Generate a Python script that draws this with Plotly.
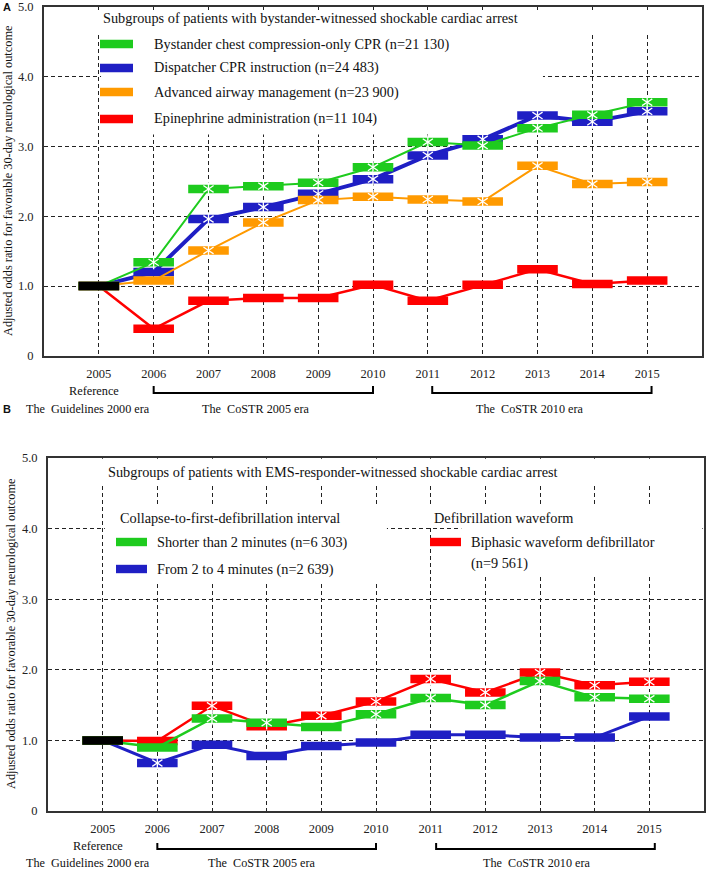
import plotly.graph_objects as go

# data
years = [2005, 2006, 2007, 2008, 2009, 2010, 2011, 2012, 2013, 2014, 2015]

# panel A - bystander-witnessed
a_compression = [1.00, 1.34, 2.39, 2.43, 2.48, 2.70, 3.06, 3.01, 3.26, 3.45, 3.63]
a_dispatcher = [1.00, 1.20, 1.96, 2.13, 2.32, 2.53, 2.87, 3.10, 3.44, 3.35, 3.50]
a_airway = [1.00, 1.08, 1.51, 1.91, 2.23, 2.28, 2.24, 2.21, 2.72, 2.46, 2.49]
a_epinephrine = [1.00, 0.39, 0.79, 0.83, 0.83, 1.02, 0.79, 1.02, 1.24, 1.03, 1.08]
a_compression_sig = [0, 1, 1, 1, 1, 1, 1, 1, 1, 1, 1]
a_dispatcher_sig = [0, 0, 1, 1, 1, 1, 1, 1, 1, 1, 1]
a_airway_sig = [0, 0, 1, 1, 1, 1, 1, 1, 1, 1, 1]
a_epinephrine_sig = [0, 0, 0, 0, 0, 0, 0, 0, 0, 0, 0]

# panel B - EMS-responder-witnessed
b_short = [1.00, 0.90, 1.31, 1.25, 1.19, 1.37, 1.60, 1.50, 1.84, 1.61, 1.59]
b_mid = [1.00, 0.68, 0.94, 0.78, 0.92, 0.97, 1.08, 1.08, 1.04, 1.04, 1.34]
b_biphasic = [1.00, 0.99, 1.49, 1.20, 1.35, 1.55, 1.87, 1.68, 1.96, 1.78, 1.83]
b_short_sig = [0, 0, 1, 1, 0, 1, 1, 1, 1, 1, 1]
b_mid_sig = [0, 1, 0, 0, 0, 0, 0, 0, 0, 0, 0]
b_biphasic_sig = [0, 0, 1, 0, 1, 1, 1, 1, 1, 1, 1]

ref_year = [2005]
ref_value = [1.0]

ytick_vals = [0, 1, 2, 3, 4, 5]
ytick_text = ['0', '1.0', '2.0', '3.0', '4.0', '5.0']

GREEN = '#1ecb1e'
BLUE = '#1f1fc4'
ORANGE = '#ff9a00'
RED = '#ff0000'
SERIF = 'Liberation Serif'

W, H = 709, 870


def px(x, y):
    return x / W, 1 - y / H


fig = go.Figure()


def add_series(x, y, sig, color, width, xa, ya):
    fig.add_trace(go.Scatter(
        x=x, y=y, xaxis=xa, yaxis=ya,
        mode='lines+markers',
        line=dict(color=color, width=width),
        marker=dict(symbol='line-ew', size=29, line=dict(color=color, width=8.5)),
        showlegend=False, hoverinfo='skip', cliponaxis=False,
    ))
    # white asterisks on the significant years (6-armed: y-up + y-down)
    sx = [xv for xv, s in zip(x, sig) if s]
    sy = [yv for yv, s in zip(y, sig) if s]
    if sx:
        for sym in ('y-up-open', 'y-down-open'):
            fig.add_trace(go.Scatter(
                x=sx, y=sy, xaxis=xa, yaxis=ya, mode='markers',
                marker=dict(symbol=sym, size=8.5, color='white',
                            line=dict(color='white', width=1.3)),
                showlegend=False, hoverinfo='skip', cliponaxis=False,
            ))


add_series(years, a_epinephrine, a_epinephrine_sig, RED, 2.5, 'x', 'y')
add_series(years, a_dispatcher, a_dispatcher_sig, BLUE, 4, 'x', 'y')
add_series(years, a_airway, a_airway_sig, ORANGE, 2, 'x', 'y')
add_series(years, a_compression, a_compression_sig, GREEN, 2, 'x', 'y')
add_series(ref_year, ref_value, [0], 'black', 2, 'x', 'y')

add_series(years, b_mid, b_mid_sig, BLUE, 3, 'x2', 'y2')
add_series(years, b_biphasic, b_biphasic_sig, RED, 2.5, 'x2', 'y2')
add_series(years, b_short, b_short_sig, GREEN, 2.5, 'x2', 'y2')
add_series(ref_year, ref_value, [0], 'black', 2, 'x2', 'y2')

xax = dict(range=[2004, 2016], tickvals=years, ticktext=[str(v) for v in years],
           showgrid=True, gridcolor='#222', gridwidth=1, griddash='4px,3px',
           zeroline=False, showline=True, linecolor='#333', linewidth=2, mirror=True,
           ticks='', ticklabelstandoff=5, automargin=False, ticklabeloverflow='allow',
           tickfont=dict(family=SERIF, size=12.5, color='#222'), fixedrange=True)
yax = dict(range=[0, 5], tickvals=ytick_vals, ticktext=ytick_text,
           showgrid=True, gridcolor='#222', gridwidth=1, griddash='4px,3px',
           zeroline=False, showline=True, linecolor='#333', linewidth=2, mirror=True,
           ticks='', ticklabelstandoff=6, automargin=False, ticklabeloverflow='allow',
           tickfont=dict(family=SERIF, size=12.5, color='#222'), fixedrange=True)

fig.update_layout(
    width=W, height=H,
    margin=dict(l=0, r=0, t=0, b=0, pad=0),
    paper_bgcolor='white', plot_bgcolor='white',
    xaxis=dict(xax, domain=[44 / W, 702 / W], anchor='y'),
    yaxis=dict(yax, domain=[1 - 356 / H, 1 - 6.5 / H], anchor='x'),
    xaxis2=dict(xax, domain=[48 / W, 704 / W], anchor='y2'),
    yaxis2=dict(yax, domain=[1 - 811 / H, 1 - 458 / H], anchor='x2'),
)

shapes = []


def mask(x0, x1, y0, y1, xa, ya):
    shapes.append(dict(type='rect', xref=xa, yref=ya, x0=x0, x1=x1, y0=y0, y1=y1,
                       fillcolor='white', line=dict(width=0), layer='between'))


# white areas behind the legend texts (grid is interrupted there)
mask(2004.03, 2015.97, 4.60, 4.95, 'x', 'y')
mask(2005.04, 2013.1, 3.17, 4.60, 'x', 'y')
mask(2004.03, 2015.97, 4.62, 4.99, 'x2', 'y2')
mask(2005.04, 2010.2, 3.24, 4.33, 'x2', 'y2')
mask(2010.2, 2011.56, 4.02, 4.33, 'x2', 'y2')
mask(2011.56, 2015.97, 3.32, 4.33, 'x2', 'y2')


def swatch(x0, x1, yc, color):
    a0, b0 = px(x0, yc - 4.2)
    a1, b1 = px(x1, yc + 4.2)
    shapes.append(dict(type='rect', xref='paper', yref='paper', x0=a0, x1=a1, y0=b1, y1=b0,
                       fillcolor=color, line=dict(width=0)))


swatch(100, 133, 44, GREEN)
swatch(100, 133, 68, BLUE)
swatch(100, 133, 92, ORANGE)
swatch(100, 133, 119, RED)
swatch(116, 147, 542, GREEN)
swatch(116, 147, 569, BLUE)
swatch(430, 461, 542, RED)


def bracket(x0, x1, y_bot, y_top, xa):
    yb = 1 - y_bot / H
    yt = 1 - y_top / H
    shapes.append(dict(type='path', xref=xa, yref='paper',
                       path=f'M {x0},{yt} L {x0},{yb} L {x1},{yb} L {x1},{yt}',
                       line=dict(color='black', width=2)))


bracket(2006, 2010, 393, 386, 'x')
bracket(2011.08, 2015.08, 393, 386, 'x')
bracket(2006, 2010, 849, 843, 'x2')
bracket(2011.1, 2015.1, 849, 843, 'x2')

fig.update_layout(shapes=shapes)

annotations = []


def label(x, y, text, size=14.3, anchor='left', family=SERIF, bold=False, angle=0):
    ax, ay = px(x, y)
    if bold:
        text = f'<b>{text}</b>'
    annotations.append(dict(x=ax, y=ay, xref='paper', yref='paper', text=text,
                            showarrow=False, xanchor=anchor, yanchor='middle',
                            textangle=angle,
                            font=dict(family=family, size=size, color='#111')))


# panel A texts
label(7, 7, 'A', size=11, anchor='center', family='Liberation Sans', bold=True)
label(101, 18, 'Subgroups of patients with bystander-witnessed shockable cardiac arrest')
label(152, 44, 'Bystander chest compression-only CPR (n=21\u00a0130)')
label(152, 68, 'Dispatcher CPR instruction (n=24\u00a0483)')
label(152, 92, 'Advanced airway management (n=23\u00a0900)')
label(152, 119, 'Epinephrine administration (n=11\u00a0104)')
label(8, 181, 'Adjusted odds ratio for favorable 30-day neurological outcome',
      size=12.3, anchor='center', angle=-90)
label(94, 391, 'Reference', size=12.3, anchor='center')
label(88, 409, 'The\u00a0 Guidelines 2000 era', size=12.2, anchor='center')
label(256, 409, 'The\u00a0 CoSTR 2005 era', size=12.2, anchor='center')
label(530, 409, 'The\u00a0 CoSTR 2010 era', size=12.2, anchor='center')

# panel B texts
label(7, 409, 'B', size=11, anchor='center', family='Liberation Sans', bold=True)
label(106, 472, 'Subgroups of patients with EMS-responder-witnessed shockable cardiac arrest')
label(118, 518, 'Collapse-to-first-defibrillation interval')
label(155, 542, 'Shorter than 2 minutes (n=6\u00a0303)')
label(155, 569, 'From 2 to 4 minutes (n=2\u00a0639)')
label(432, 518, 'Defibrillation waveform')
label(469, 542, 'Biphasic waveform defibrillator')
label(469, 563, '(n=9\u00a0561)')
label(11, 634, 'Adjusted odds ratio for favorable 30-day neurological outcome',
      size=12.3, anchor='center', angle=-90)
label(98, 846, 'Reference', size=12.3, anchor='center')
label(88, 863, 'The\u00a0 Guidelines 2000 era', size=12.2, anchor='center')
label(262, 863, 'The\u00a0 CoSTR 2005 era', size=12.2, anchor='center')
label(537, 863, 'The\u00a0 CoSTR 2010 era', size=12.2, anchor='center')

fig.update_layout(annotations=annotations)

# page body has a default margin; drop it so the figure sits at the window origin
fig.write_html("out.html", config={'displayModeBar': False},
               post_script="document.body.style.margin='0';")
